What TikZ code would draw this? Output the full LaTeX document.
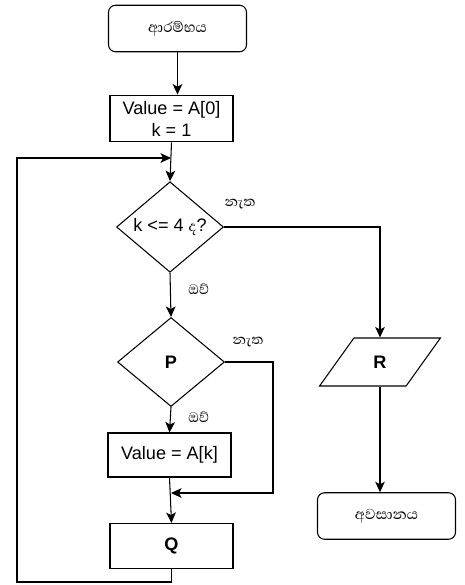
\documentclass[tikz,border=0pt]{standalone}
\usepackage{fontspec}
\setmainfont{Liberation Sans}
\newfontfamily\sinhala[Script=Sinhala]{Abhaya Libre}
\usetikzlibrary{arrows.meta,positioning,shapes.geometric}

\begin{document}
\begin{tikzpicture}[
  x=0.02cm,y=-0.02cm,
  font=\fontsize{10.3}{12.5}\selectfont,
  terminal/.style={draw,rounded corners=4pt,minimum width=2.76cm,minimum height=0.93cm,align=center,font=\sinhala\fontsize{10.5}{12}\selectfont},
  procbox/.style={draw,minimum width=2.46cm,minimum height=0.9cm,align=center},
  decision/.style={draw,diamond,inner sep=0pt,minimum width=2.14cm,minimum height=1.78cm,align=center},
  iobox/.style={draw,trapezium,trapezium left angle=56,trapezium right angle=124,trapezium stretches=true,minimum width=2.42cm,minimum height=0.96cm},
  flow/.style={-{Stealth[length=6pt,width=5.5pt,inset=1.5pt]}},
  lbl/.style={font=\sinhala\fontsize{10}{11}\selectfont,inner sep=1pt},
  every path/.style={line width=0.6pt},
]
  \useasboundingbox (0,0) rectangle (465,585);

  \node[terminal] (start) at (177.5,28.5) {ආරම්භය};
  \node[procbox] (init) at (171.5,118.5) {Value = A[0]\\k = 1};
  \node[decision] (cond) at (170,227) {k <= 4 {\sinhala ද}?};
  \node[decision] (p) at (171,362) {\textbf{P}};
  \node[procbox,minimum height=0.88cm] (upd) at (169.5,455) {Value = A[k]};
  \node[procbox] (q) at (171.5,546) {\textbf{Q}};
  \node[iobox] (r) at (380,362) {\textbf{R}};
  \node[terminal] (end) at (386.5,516) {අවසානය};

  \coordinate (join) at (171,158);
  \coordinate (loopL) at (17,582);
  \coordinate (merge) at (171,493);
  \coordinate (pturn) at (273,493);

  \draw[flow] (start.south) -- (start.south |- init.north);
  \draw[flow] (init.south) -- (cond.north);
  \draw[flow] (cond.south) -- node[lbl,right=9pt,pos=0.37]{ඔව්} (p.north);
  \draw[flow] (p.south) -- node[lbl,right=9pt,pos=0.42]{ඔව්} (upd.north);
  \draw[flow] (upd.south) -- (q.north);
  \draw[flow] (cond.east) -| node[lbl,pos=0,anchor=south west,xshift=-1pt,yshift=9pt]{නැත} (r.north);
  \draw[flow] (r.south) -- (r.south |- end.north);
  \draw[flow] (p.east) -| node[lbl,pos=0,anchor=south west,xshift=3pt,yshift=7pt]{නැත} (pturn) -- (merge);
  \draw[flow] (q.south) -- (q.south |- loopL) -- (loopL) |- (join);
\end{tikzpicture}
\end{document}
